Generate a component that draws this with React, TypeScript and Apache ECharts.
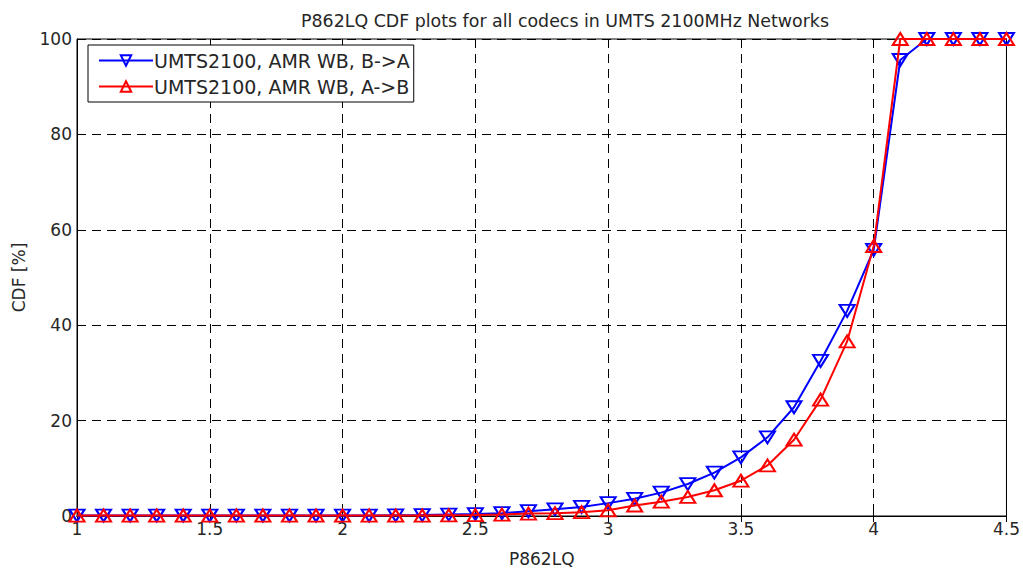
import React, { useEffect, useRef } from "react";
import * as echarts from "echarts";

const xValues = [1.0,1.1,1.2,1.3,1.4,1.5,1.6,1.7,1.8,1.9,2.0,2.1,2.2,2.3,2.4,2.5,2.6,2.7,2.8,2.9,3.0,3.1,3.2,3.3,3.4,3.5,3.6,3.7,3.8,3.9,4.0,4.1,4.2,4.3,4.4,4.5];
const seriesBA = [0.1,0.1,0.1,0.1,0.1,0.1,0.1,0.1,0.1,0.1,0.1,0.1,0.15,0.2,0.3,0.4,0.6,1.0,1.4,1.9,2.7,3.6,4.9,6.7,9.1,12.3,16.5,22.8,32.5,43.0,55.8,95.6,100,100,100,100];
const seriesAB = [0.1,0.1,0.1,0.1,0.1,0.1,0.1,0.1,0.1,0.1,0.1,0.1,0.1,0.1,0.15,0.2,0.3,0.5,0.6,0.8,1.2,2.2,3.0,4.0,5.4,7.4,10.6,16.0,24.4,36.6,56.6,100,100,100,100,100];
const seriesNames = ["UMTS2100, AMR WB, B->A", "UMTS2100, AMR WB, A->B"];
const xTicks = [1, 1.5, 2, 2.5, 3, 3.5, 4, 4.5];

export default function App() {
  const ref = useRef<HTMLDivElement>(null);
  useEffect(() => {
    const chart = echarts.init(ref.current!, null, { renderer: "svg" });
    const font = "'DejaVu Sans', sans-serif";
    const txt = "#262626";
    const grid = { type: [9, 6] as any, color: "#000", width: 1 };
    chart.setOption({
      animation: false,
      backgroundColor: "#fff",
      title: {
        text: "P862LQ CDF plots for all codecs in UMTS 2100MHz Networks",
        left: 560,
        textAlign: "center",
        top: 7,
        textStyle: { fontFamily: font, fontSize: 17.4, fontWeight: "normal", color: txt },
      },
      legend: {
        orient: "vertical",
        left: 88,
        top: 45,
        padding: [6, 4, 6, 10],
        itemGap: 7,
        itemWidth: 54,
        itemHeight: 13,
        borderColor: "#000",
        borderWidth: 1,
        backgroundColor: "#fff",
        textStyle: { fontFamily: font, fontSize: 19, color: txt, padding: [0, 0, 0, -4] },
        data: seriesNames,
      },
      grid: {
        left: 77, right: 16, top: 39, bottom: 56,
        show: true, borderColor: "#000", borderWidth: 1, backgroundColor: "#fff",
      },
      xAxis: [
        {
          type: "value", min: 1, max: 4.5, interval: 0.5,
          name: "P862LQ", nameLocation: "middle", nameGap: 34,
          nameTextStyle: { fontFamily: font, fontSize: 17, color: txt },
          axisLine: { show: true, lineStyle: { color: "#000" } },
          axisTick: { show: true, inside: true, length: 6, lineStyle: { color: "#000" } },
          axisLabel: {
            fontFamily: font, fontSize: 17, color: txt, margin: 4,
            formatter: (v: number) => (xTicks.includes(v) ? String(v) : ""),
          },
          splitLine: { show: true, lineStyle: grid },
        },
        {
          type: "value", min: 1, max: 4.5, interval: 0.5, position: "top",
          axisLine: { show: true, lineStyle: { color: "#000" } },
          axisTick: { show: true, inside: true, length: 6, lineStyle: { color: "#000" } },
          axisLabel: { show: false }, splitLine: { show: false },
        },
      ],
      yAxis: [
        {
          type: "value", min: 0, max: 100, interval: 20,
          name: "CDF [%]", nameLocation: "middle", nameGap: 50,
          nameTextStyle: { fontFamily: font, fontSize: 17, color: txt },
          axisLine: { show: true, lineStyle: { color: "#000" } },
          axisTick: { show: true, inside: true, length: 6, lineStyle: { color: "#000" } },
          axisLabel: { fontFamily: font, fontSize: 17, color: txt, margin: 5 },
          splitLine: { show: true, lineStyle: grid },
        },
        {
          type: "value", min: 0, max: 100, interval: 20, position: "right",
          axisLine: { show: true, lineStyle: { color: "#000" } },
          axisTick: { show: true, inside: true, length: 6, lineStyle: { color: "#000" } },
          axisLabel: { show: false }, splitLine: { show: false },
        },
      ],
      series: [
        {
          name: seriesNames[0],
          type: "line",
          data: xValues.map((x, i) => [x, seriesBA[i]]),
          symbol: "triangle",
          symbolRotate: 180,
          symbolSize: [15, 12],
          showAllSymbol: true,
          lineStyle: { color: "#0000ff", width: 2 },
          itemStyle: { color: "rgba(255,255,255,0)", borderColor: "#0000ff", borderWidth: 2 },
          z: 2,
        },
        {
          name: seriesNames[1],
          type: "line",
          data: xValues.map((x, i) => [x, seriesAB[i]]),
          symbol: "triangle",
          symbolSize: [15, 12],
          showAllSymbol: true,
          lineStyle: { color: "#ff0000", width: 2 },
          itemStyle: { color: "rgba(255,255,255,0)", borderColor: "#ff0000", borderWidth: 2 },
          z: 3,
        },
      ],
    });
    return () => chart.dispose();
  }, []);
  return <div ref={ref} style={{ width: 1023, height: 572, position: "absolute", left: 0, top: 0 }} />;
}
